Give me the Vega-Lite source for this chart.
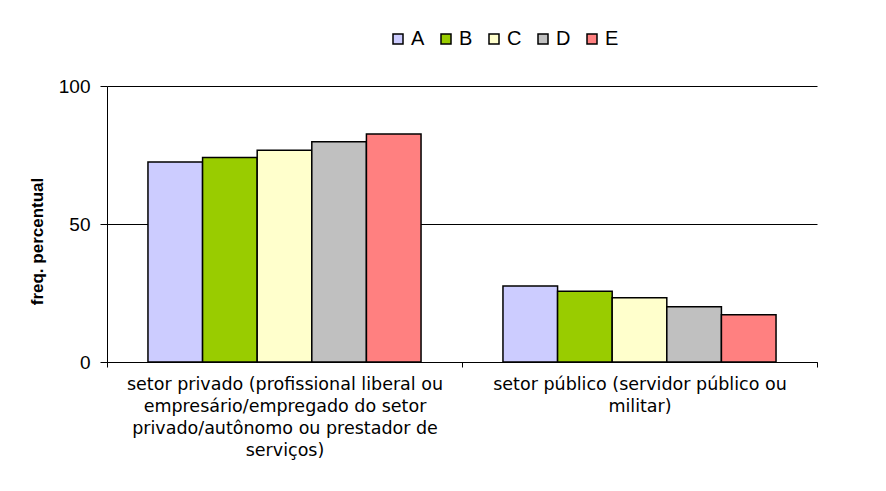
{
  "$schema": "https://vega.github.io/schema/vega-lite/v6.json",
  "width": 710,
  "height": 276,
  "autosize": {"type": "none"},
  "padding": {"left": 107, "top": 86, "right": 69, "bottom": 129},
  "background": "white",
  "data": {
    "values": [
      {"setor": "setor privado (profissional liberal ou|empresário/empregado do setor|privado/autônomo ou prestador de|serviços)", "grupo": "A", "freq": 72.5},
      {"setor": "setor privado (profissional liberal ou|empresário/empregado do setor|privado/autônomo ou prestador de|serviços)", "grupo": "B", "freq": 74.1},
      {"setor": "setor privado (profissional liberal ou|empresário/empregado do setor|privado/autônomo ou prestador de|serviços)", "grupo": "C", "freq": 76.7},
      {"setor": "setor privado (profissional liberal ou|empresário/empregado do setor|privado/autônomo ou prestador de|serviços)", "grupo": "D", "freq": 79.8},
      {"setor": "setor privado (profissional liberal ou|empresário/empregado do setor|privado/autônomo ou prestador de|serviços)", "grupo": "E", "freq": 82.6},
      {"setor": "setor público (servidor público ou|militar)", "grupo": "A", "freq": 27.5},
      {"setor": "setor público (servidor público ou|militar)", "grupo": "B", "freq": 25.6},
      {"setor": "setor público (servidor público ou|militar)", "grupo": "C", "freq": 23.3},
      {"setor": "setor público (servidor público ou|militar)", "grupo": "D", "freq": 20.0},
      {"setor": "setor público (servidor público ou|militar)", "grupo": "E", "freq": 17.1}
    ]
  },
  "mark": {"type": "bar", "stroke": "black", "strokeWidth": 1.5},
  "encoding": {
    "x": {
      "field": "setor",
      "type": "nominal",
      "sort": null,
      "scale": {"paddingInner": 0, "paddingOuter": 0},
      "axis": {
        "title": null,
        "labelAngle": 0,
        "labelExpr": "split(datum.label, '|')",
        "labelFont": "DejaVu Sans",
        "labelFontSize": 17.5,
        "labelColor": "black",
        "labelLineHeight": 22,
        "labelLimit": 450,
        "labelPadding": 8,
        "tickBand": "extent",
        "tickSize": 5,
        "tickColor": "black",
        "domainColor": "black",
        "grid": false
      }
    },
    "xOffset": {
      "field": "grupo",
      "type": "nominal",
      "scale": {"paddingInner": 0, "paddingOuter": 0.75}
    },
    "y": {
      "field": "freq",
      "type": "quantitative",
      "scale": {"domain": [0, 100], "nice": false},
      "axis": {
        "title": "freq. percentual",
        "titleFont": "Liberation Sans",
        "titleFontSize": 17,
        "titleFontWeight": "bold",
        "titleColor": "black",
        "titlePadding": 12,
        "titleY": 155,
        "values": [0, 50, 100],
        "labelFont": "Liberation Sans",
        "labelFontSize": 19,
        "labelColor": "black",
        "labelPadding": 10,
        "tickSize": 7,
        "tickColor": "black",
        "domainColor": "black",
        "grid": true,
        "gridColor": "black",
        "gridOpacity": 1
      }
    },
    "fill": {
      "field": "grupo",
      "type": "nominal",
      "scale": {
        "domain": ["A", "B", "C", "D", "E"],
        "range": ["#CCCCFF", "#99CC00", "#FFFFCC", "#C0C0C0", "#FF8080"]
      },
      "legend": {
        "title": null,
        "orient": "none",
        "direction": "horizontal",
        "legendX": 281,
        "legendY": -57,
        "symbolType": "square",
        "symbolSize": 100,
        "symbolStrokeColor": "black",
        "symbolStrokeWidth": 1.5,
        "symbolOpacity": 1,
        "labelFont": "Liberation Sans",
        "labelFontSize": 20,
        "labelColor": "black",
        "labelOffset": 3,
        "columnPadding": 11
      }
    }
  },
  "config": {
    "view": {"stroke": null}
  }
}
